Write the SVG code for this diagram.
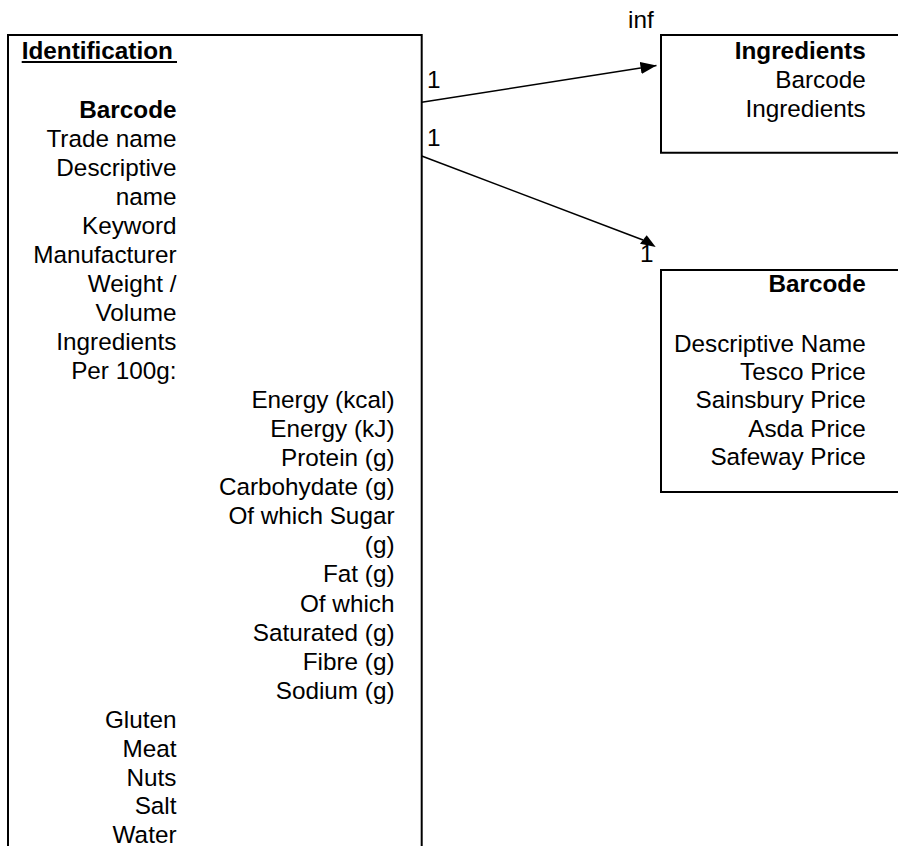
<svg xmlns="http://www.w3.org/2000/svg" width="898" height="846" viewBox="0 0 898 846">
  <style>
    text { font-family: "Liberation Sans", Arial, sans-serif; font-size: 24.3px; fill: #000; }
    .b { font-weight: bold; }
    .r { text-anchor: end; }
    .box { fill: none; stroke: #000; stroke-width: 2; }
    .conn { fill: none; stroke: #000; stroke-width: 1.6; }
  </style>
  <defs>
    <marker id="arrow" markerUnits="userSpaceOnUse" markerWidth="16" markerHeight="12" refX="16" refY="6" orient="auto">
      <path d="M0,0 L16,6 L0,12 z" fill="#000"/>
    </marker>
  </defs>
  <rect width="898" height="846" fill="#fff"/>

  <!-- Product identification entity -->
  <g id="identification">
    <path class="box" d="M8,850 V35 H421.7 V850"/>
    <text x="21.7" y="59.3" class="b">Identification</text>
    <line x1="21.7" y1="62" x2="177" y2="62" stroke="#000" stroke-width="2"/>
    <g class="r">
      <text x="176.5" y="117.7" class="b r">Barcode</text>
      <text x="176.5" y="146.7" class="r">Trade name</text>
      <text x="176.5" y="175.7" class="r">Descriptive</text>
      <text x="176.5" y="204.7" class="r">name</text>
      <text x="176.5" y="233.7" class="r">Keyword</text>
      <text x="176.5" y="262.7" class="r">Manufacturer</text>
      <text x="176.5" y="291.7" class="r">Weight /</text>
      <text x="176.5" y="320.7" class="r">Volume</text>
      <text x="176.5" y="349.7" class="r">Ingredients</text>
      <text x="176.5" y="378.7" class="r">Per 100g:</text>
      <text x="394.5" y="408" class="r">Energy (kcal)</text>
      <text x="394.5" y="437" class="r">Energy (kJ)</text>
      <text x="394.5" y="466" class="r">Protein (g)</text>
      <text x="394.5" y="495" class="r">Carbohydate (g)</text>
      <text x="394.5" y="524" class="r">Of which Sugar</text>
      <text x="394.5" y="553" class="r">(g)</text>
      <text x="394.5" y="582" class="r">Fat (g)</text>
      <text x="394.5" y="611.5" class="r">Of which</text>
      <text x="394.5" y="641" class="r">Saturated (g)</text>
      <text x="394.5" y="670" class="r">Fibre (g)</text>
      <text x="394.5" y="699" class="r">Sodium (g)</text>
      <text x="176.5" y="728" class="r">Gluten</text>
      <text x="176.5" y="757" class="r">Meat</text>
      <text x="176.5" y="785.5" class="r">Nuts</text>
      <text x="176.5" y="814" class="r">Salt</text>
      <text x="176.5" y="842.7" class="r">Water</text>
    </g>
  </g>

  <!-- Ingredients entity -->
  <g id="ingredients">
    <path class="box" d="M905,35 H661 V152.7 H905"/>
    <text x="865.7" y="59.3" class="b r">Ingredients</text>
    <text x="865.7" y="88" class="r">Barcode</text>
    <text x="865.7" y="116.7" class="r">Ingredients</text>
  </g>

  <!-- Price entity -->
  <g id="prices">
    <path class="box" d="M905,270 H661 V492 H905"/>
    <text x="865.7" y="291.7" class="b r">Barcode</text>
    <text x="865.7" y="351.7" class="r">Descriptive Name</text>
    <text x="865.7" y="380" class="r">Tesco Price</text>
    <text x="865.7" y="408.3" class="r">Sainsbury Price</text>
    <text x="865.7" y="436.7" class="r">Asda Price</text>
    <text x="865.7" y="465" class="r">Safeway Price</text>
  </g>

  <!-- Relationships -->
  <g id="connectors">
    <line class="conn" x1="421.7" y1="102.3" x2="656.5" y2="65.5" marker-end="url(#arrow)"/>
    <line class="conn" x1="421.7" y1="156" x2="643" y2="240"/>
    <polygon points="646.7,235.3 640,243.7 655.7,247" fill="#000"/>
    <text x="427" y="88.3">1</text>
    <text x="427" y="146">1</text>
    <text x="628" y="27.7">inf</text>
    <text x="640" y="262">1</text>
  </g>
</svg>
